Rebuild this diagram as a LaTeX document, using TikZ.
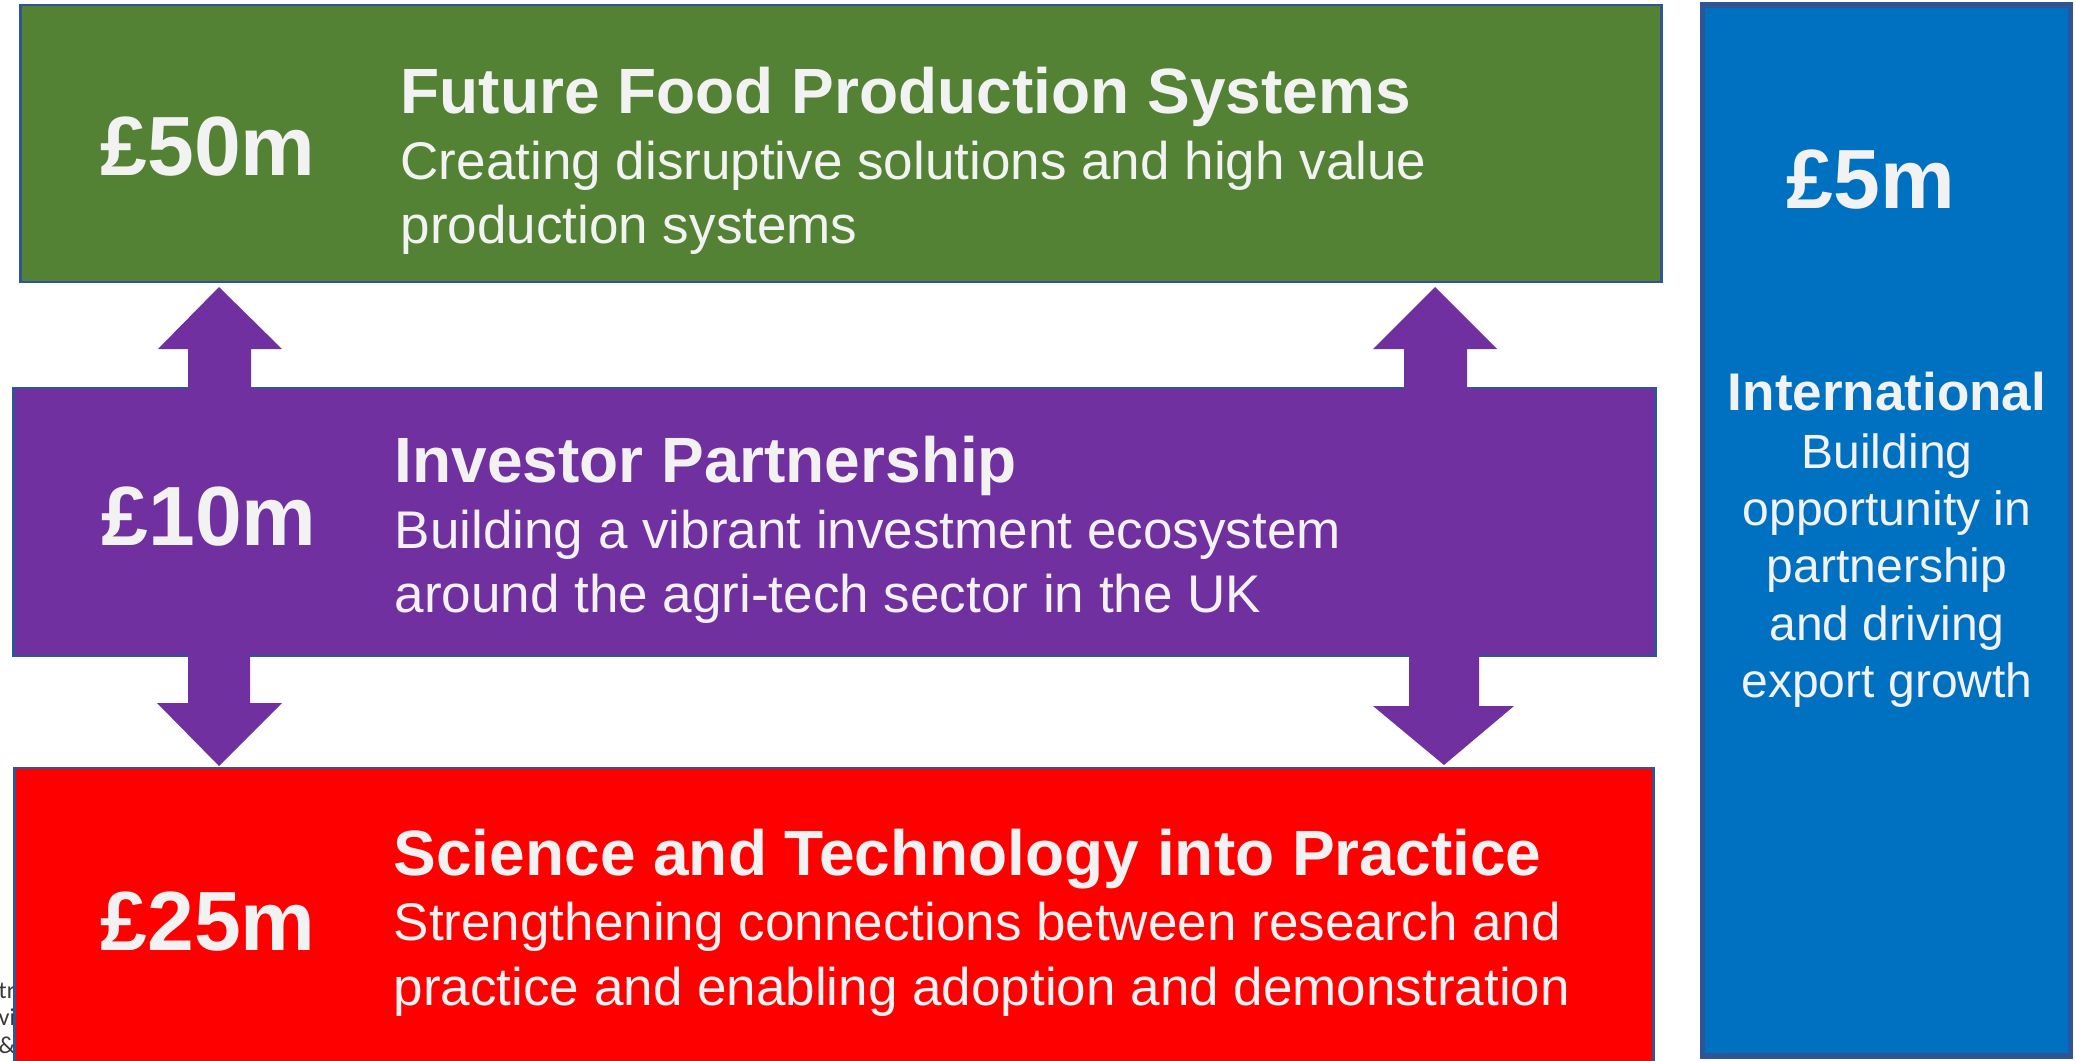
\documentclass[tikz,border=0pt]{standalone}
\usepackage{fontspec}
\setmainfont{Liberation Sans}
\newfontfamily\fragfont{Carlito}
\usetikzlibrary{calc}
\definecolor{fgreen}{HTML}{548235}
\definecolor{fpurple}{HTML}{7030A0}
\definecolor{fred}{HTML}{FF0000}
\definecolor{fblue}{HTML}{0070C0}
\definecolor{fborder}{HTML}{2F5597}
\definecolor{ftext}{HTML}{F2F2F2}
\definecolor{fgray}{HTML}{3A3A3A}
\begin{document}
\begin{tikzpicture}[x=0.01cm,y=-0.01cm,
  panel/.style={rectangle, draw=fborder, line width=0.6pt, inner sep=0pt},
  amounttext/.style={text=ftext, font=\fontsize{23.9}{28}\selectfont\bfseries, inner sep=0pt, anchor=base west},
  headtext/.style={text=ftext, font=\fontsize{18.2}{22}\selectfont\bfseries, inner sep=0pt, anchor=base west},
  subtext/.style={text=ftext, font=\fontsize{15.08}{18}\selectfont, inner sep=0pt, anchor=base west},
  bluehead/.style={text=ftext, font=\fontsize{15.08}{18}\selectfont\bfseries, inner sep=0pt, anchor=base},
  bluesub/.style={text=ftext, font=\fontsize{13.66}{16}\selectfont, inner sep=0pt, anchor=base},
  fragtext/.style={text=fgray, font=\fragfont\fontsize{6.9}{8}\selectfont, inner sep=0pt, anchor=base west},
  blockarrow/.style={fill=fpurple}
]
\useasboundingbox (0,0) rectangle (2075,1060);
\clip (0,0) rectangle (2075,1060);

% fragments of text hidden behind the red panel
\node[fragtext] (fr1) at (-2,998) {tr};
\node[fragtext] (fr2) at (-2,1025) {vi};
\node[fragtext] (fr3) at (-2,1053) {\&};

% panels
\node[panel, fill=fgreen, minimum width=164mm, minimum height=27.7mm] (green) at (841,143.5) {};
\node[panel, fill=fpurple, minimum width=164.1mm, minimum height=26.8mm] (purple) at (834.5,522) {};
\node[panel, fill=fred, minimum width=163.8mm, minimum height=30.2mm] (red) at (834,919) {};
\node[rectangle, draw=fborder, line width=1.56pt, fill=fblue, inner sep=0pt,
      minimum width=36.8mm, minimum height=105mm] (blue) at (1886.5,530.5) {};

% block arrows from the purple panel
\fill[blockarrow] ($(188,0 |- purple.north)+(0,4)$) -- (188,349) -- (158,349) -- (219,287)
  -- (282,349) -- (251,349) -- ($(251,0 |- purple.north)+(0,4)$) -- cycle;
\fill[blockarrow] ($(1404,0 |- purple.north)+(0,4)$) -- (1404,349) -- (1373,349) -- (1435,287)
  -- (1497,349) -- (1467,349) -- ($(1467,0 |- purple.north)+(0,4)$) -- cycle;
\fill[blockarrow] ($(188,0 |- purple.south)+(0,-4)$) -- (188,703) -- (157,703) -- (219,766)
  -- (282,703) -- (250,703) -- ($(250,0 |- purple.south)+(0,-4)$) -- cycle;
\fill[blockarrow] ($(1409,0 |- purple.south)+(0,-4)$) -- (1409,706) -- (1373,706) -- (1444,765)
  -- (1514,706) -- (1479,706) -- ($(1479,0 |- purple.south)+(0,-4)$) -- cycle;

% green panel text
\node[amounttext] (a50) at (100,175) {£50m};
\node[headtext] (gh) at (400,113) {Future Food Production Systems};
\node[subtext] (gs1) at (400,179) {Creating disruptive solutions and high value};
\node[subtext] (gs2) at (400,243) {production systems};

% purple panel text
\node[amounttext] (a10) at (101,545) {£10m};
\node[headtext] (ph) at (394,482) {Investor Partnership};
\node[subtext] (ps1) at (394,548) {Building a vibrant investment ecosystem};
\node[subtext] (ps2) at (394,612) {around the agri-tech sector in the UK};

% red panel text
\node[amounttext] (a25) at (100,950) {£25m};
\node[headtext] (rh) at (393,875) {Science and Technology into Practice};
\node[subtext] (rs1) at (393,940) {Strengthening connections between research and};
\node[subtext] (rs2) at (393,1005) {practice and enabling adoption and demonstration};

% blue panel text
\node[amounttext, anchor=base] (a5) at (1871,208) {£5m};
\node[bluehead] (bh) at (1887,410) {International};
\node[bluesub] (bs1) at (1887,468) {Building};
\node[bluesub] (bs2) at (1887,525) {opportunity in};
\node[bluesub] (bs3) at (1887,582) {partnership};
\node[bluesub] (bs4) at (1887,640) {and driving};
\node[bluesub] (bs5) at (1887,697) {export growth};
\end{tikzpicture}
\end{document}
